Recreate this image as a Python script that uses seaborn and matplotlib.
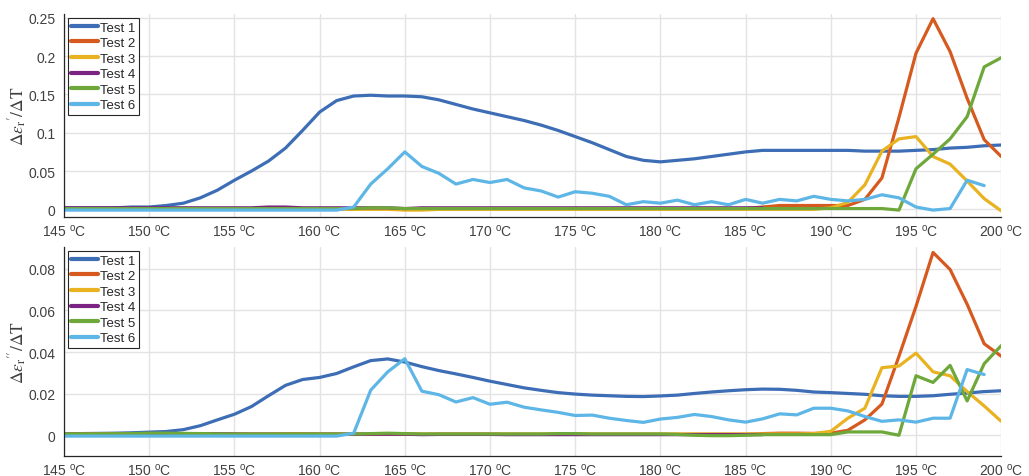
import numpy as np
import pandas as pd
import matplotlib
matplotlib.use("Agg")
import matplotlib.pyplot as plt
import seaborn as sns

temps = list(range(145, 201))
xtick_vals = [145, 150, 155, 160, 165, 170, 175, 180, 185, 190, 195, 200]
series_names = ["Test 1", "Test 2", "Test 3", "Test 4", "Test 5", "Test 6"]

# ---- top panel: d eps' / dT ----
top_t1 = [0.002, 0.002, 0.002, 0.002, 0.003, 0.003, 0.005, 0.008, 0.015, 0.025,
          0.038, 0.050, 0.063, 0.080, 0.103, 0.127, 0.142, 0.148, 0.149, 0.148,
          0.148, 0.147, 0.143, 0.137, 0.131, 0.126, 0.121, 0.116, 0.110, 0.103,
          0.095, 0.087, 0.078, 0.069, 0.064, 0.062, 0.064, 0.066, 0.069, 0.072,
          0.075, 0.077, 0.077, 0.077, 0.077, 0.077, 0.077, 0.076, 0.076, 0.076,
          0.077, 0.078, 0.080, 0.081, 0.083, 0.084]
top_t2 = [0.001, 0.001, 0.001, 0.001, 0.001, 0.001, 0.001, 0.001, 0.001, 0.001,
          0.001, 0.001, 0.001, 0.001, 0.001, 0.001, 0.001, 0.001, 0.001, 0.001,
          0.000, 0.001, 0.001, 0.001, 0.001, 0.001, 0.001, 0.001, 0.001, 0.001,
          0.001, 0.001, 0.001, 0.001, 0.001, 0.001, 0.001, 0.001, 0.001, 0.001,
          0.001, 0.003, 0.005, 0.005, 0.005, 0.005, 0.005, 0.013, 0.041, 0.120,
          0.204, 0.249, 0.206, 0.145, 0.091, 0.069]
top_t3 = [0.000, 0.000, 0.000, 0.000, 0.000, 0.000, 0.000, 0.000, 0.000, 0.000,
          0.000, 0.000, 0.000, 0.000, 0.000, 0.000, 0.000, 0.000, 0.000, 0.000,
          -0.001, -0.001, 0.000, 0.000, 0.000, 0.000, 0.000, 0.000, 0.000, 0.000,
          0.000, 0.000, 0.000, 0.000, 0.000, 0.000, 0.000, 0.000, 0.000, 0.000,
          0.000, 0.000, 0.000, 0.000, 0.000, 0.002, 0.009, 0.032, 0.076, 0.092,
          0.095, 0.069, 0.059, 0.037, 0.014, -0.002]
top_t4 = [0.002, 0.002, 0.002, 0.002, 0.002, 0.002, 0.002, 0.002, 0.002, 0.002,
          0.002, 0.002, 0.003, 0.003, 0.002, 0.002, 0.002, 0.002, 0.002, 0.002,
          0.001, 0.002, 0.002, 0.002, 0.002, 0.002, 0.002, 0.002, 0.002, 0.002,
          0.002, 0.002, 0.002, 0.002, 0.002, 0.002, 0.002, 0.002, 0.002, 0.002,
          0.002, 0.002]
top_t5 = [0.001, 0.001, 0.001, 0.001, 0.001, 0.001, 0.001, 0.001, 0.001, 0.001,
          0.001, 0.001, 0.001, 0.001, 0.001, 0.001, 0.001, 0.001, 0.002, 0.002,
          0.001, 0.001, 0.001, 0.001, 0.001, 0.001, 0.001, 0.001, 0.001, 0.001,
          0.001, 0.001, 0.001, 0.001, 0.001, 0.001, 0.001, 0.001, 0.001, 0.001,
          0.001, 0.001, 0.001, 0.001, 0.001, 0.001, 0.001, 0.001, 0.001, -0.001,
          0.053, 0.072, 0.092, 0.121, 0.186, 0.198]
top_t6 = [-0.001, -0.001, -0.001, -0.001, -0.001, -0.001, -0.001, -0.001, -0.001, -0.001,
          -0.001, -0.001, -0.001, -0.001, -0.001, -0.001, -0.001, 0.003, 0.033, 0.053,
          0.075, 0.056, 0.047, 0.033, 0.039, 0.035, 0.039, 0.028, 0.024, 0.016,
          0.023, 0.021, 0.017, 0.006, 0.010, 0.008, 0.012, 0.006, 0.010, 0.006,
          0.013, 0.008, 0.013, 0.011, 0.017, 0.013, 0.011, 0.013, 0.019, 0.015,
          0.003, -0.001, 0.001, 0.038, 0.031]

# ---- bottom panel: d eps'' / dT ----
bot_t1 = [0.0008, 0.0008, 0.0009, 0.0010, 0.0012, 0.0015, 0.0018, 0.0027, 0.0046, 0.0074,
          0.0101, 0.0138, 0.0190, 0.0240, 0.0268, 0.0278, 0.0297, 0.0329, 0.0359, 0.0367,
          0.0352, 0.0330, 0.0311, 0.0295, 0.0278, 0.0260, 0.0244, 0.0228, 0.0216, 0.0205,
          0.0198, 0.0193, 0.0190, 0.0187, 0.0186, 0.0189, 0.0193, 0.0201, 0.0208, 0.0214,
          0.0219, 0.0222, 0.0221, 0.0216, 0.0208, 0.0205, 0.0201, 0.0197, 0.0190, 0.0187,
          0.0187, 0.0190, 0.0197, 0.0203, 0.0210, 0.0214]
bot_t2 = [0.0005, 0.0005, 0.0005, 0.0005, 0.0005, 0.0005, 0.0005, 0.0005, 0.0005, 0.0005,
          0.0005, 0.0005, 0.0005, 0.0005, 0.0005, 0.0005, 0.0005, 0.0005, 0.0005, 0.0005,
          0.0005, 0.0005, 0.0005, 0.0005, 0.0005, 0.0005, 0.0005, 0.0005, 0.0005, 0.0005,
          0.0005, 0.0005, 0.0005, 0.0005, 0.0005, 0.0005, 0.0005, 0.0005, 0.0005, 0.0005,
          0.0005, 0.0008, 0.0010, 0.0010, 0.0009, 0.0010, 0.0024, 0.0074, 0.0150, 0.0380,
          0.0620, 0.0879, 0.0797, 0.0630, 0.0440, 0.0380]
bot_t3 = [0.0006, 0.0006, 0.0006, 0.0006, 0.0006, 0.0006, 0.0006, 0.0006, 0.0006, 0.0006,
          0.0006, 0.0006, 0.0006, 0.0008, 0.0008, 0.0006, 0.0006, 0.0006, 0.0006, 0.0006,
          0.0006, 0.0006, 0.0006, 0.0006, 0.0006, 0.0006, 0.0006, 0.0006, 0.0006, 0.0006,
          0.0006, 0.0006, 0.0006, 0.0006, 0.0006, 0.0006, 0.0006, 0.0006, 0.0006, 0.0006,
          0.0006, 0.0006, 0.0006, 0.0006, 0.0008, 0.0019, 0.0082, 0.0130, 0.0325, 0.0333,
          0.0395, 0.0305, 0.0286, 0.0210, 0.0141, 0.0067]
bot_t4 = [0.0006, 0.0006, 0.0004, 0.0004, 0.0005, 0.0004, 0.0000, 0.0004, 0.0007, 0.0008,
          0.0006, 0.0005, 0.0005, 0.0005, 0.0005, 0.0005, 0.0005, 0.0005, 0.0005, 0.0005,
          0.0005, 0.0003, 0.0004, 0.0004, 0.0004, 0.0004, 0.0003, 0.0003, 0.0003, 0.0003,
          0.0003, 0.0003, 0.0003, 0.0003, 0.0003, 0.0003, 0.0003, 0.0003, 0.0003, 0.0003,
          0.0003, 0.0003]
bot_t5 = [0.0007, 0.0007, 0.0007, 0.0007, 0.0008, 0.0010, 0.0010, 0.0009, 0.0008, 0.0007,
          0.0006, 0.0006, 0.0006, 0.0006, 0.0006, 0.0006, 0.0006, 0.0006, 0.0008, 0.0010,
          0.0008, 0.0006, 0.0006, 0.0006, 0.0006, 0.0006, 0.0006, 0.0006, 0.0006, 0.0008,
          0.0008, 0.0006, 0.0006, 0.0006, 0.0006, 0.0006, 0.0004, 0.0000, -0.0002, -0.0002,
          0.0000, 0.0003, 0.0003, 0.0003, 0.0003, 0.0003, 0.0016, 0.0016, 0.0016, 0.0000,
          0.0286, 0.0254, 0.0336, 0.0165, 0.0344, 0.0431]
bot_t6 = [-0.0004, -0.0004, -0.0004, -0.0004, -0.0004, -0.0004, -0.0004, -0.0004, -0.0004, -0.0004,
          -0.0004, -0.0004, -0.0004, -0.0004, -0.0004, -0.0004, -0.0004, 0.0010, 0.0217, 0.0305,
          0.0368, 0.0212, 0.0195, 0.0160, 0.0181, 0.0149, 0.0159, 0.0135, 0.0122, 0.0110,
          0.0095, 0.0097, 0.0082, 0.0071, 0.0062, 0.0078, 0.0086, 0.0100, 0.0090, 0.0074,
          0.0063, 0.0079, 0.0103, 0.0098, 0.0130, 0.0130, 0.0117, 0.0090, 0.0067, 0.0074,
          0.0063, 0.0082, 0.0082, 0.0316, 0.0292]

top_ticks = [0, 0.05, 0.1, 0.15, 0.2, 0.25]
top_ticklabels = ["0", "0.05", "0.1", "0.15", "0.2", "0.25"]
bot_ticks = [0, 0.02, 0.04, 0.06, 0.08]
bot_ticklabels = ["0", "0.02", "0.04", "0.06", "0.08"]

colors = ["#3d6db5", "#d65a1f", "#e8b221", "#7b2382", "#6fa83a", "#5db6e6"]

sns.set_style("whitegrid")
plt.rcParams["font.family"] = ["Liberation Sans", "DejaVu Sans"]
plt.rcParams["mathtext.fontset"] = "custom"
plt.rcParams["mathtext.rm"] = "Liberation Sans"
plt.rcParams["mathtext.it"] = "Liberation Sans:italic"

fig = plt.figure(figsize=(10.29, 4.77), dpi=100)
ax1 = fig.add_axes([0.0622, 0.543, 0.9108, 0.4254])
ax2 = fig.add_axes([0.0622, 0.0418, 0.9108, 0.4382])

panels = [
    (ax1, [top_t1, top_t2, top_t3, top_t4, top_t5, top_t6], (-0.01, 0.255),
     top_ticks, top_ticklabels, r"$\Delta\varepsilon_{\mathrm{r}}{'}/\Delta\mathrm{T}$"),
    (ax2, [bot_t1, bot_t2, bot_t3, bot_t4, bot_t5, bot_t6], (-0.01, 0.0905),
     bot_ticks, bot_ticklabels, r"$\Delta\varepsilon_{\mathrm{r}}{''}/\Delta\mathrm{T}$"),
]

for ax, data, ylim, yt, ytl, ylab in panels:
    for name, vals, c in zip(series_names, data, colors):
        sns.lineplot(x=temps[:len(vals)], y=vals, ax=ax, color=c, lw=2.3,
                     label=name, estimator=None, sort=False)
    ax.set_xlim(145, 200)
    ax.set_ylim(*ylim)
    ax.set_xticks(xtick_vals)
    ax.set_xticklabels([f"{v} $^{{\\mathrm{{o}}}}$C" for v in xtick_vals])
    ax.set_yticks(yt)
    ax.set_yticklabels(ytl)
    ax.grid(True, color="#e3e3e3", lw=1.0)
    ax.set_facecolor("white")
    for s in ["top", "right"]:
        ax.spines[s].set_visible(False)
    for s in ["left", "bottom"]:
        ax.spines[s].set_color("#262626")
        ax.spines[s].set_linewidth(0.9)
    ax.tick_params(axis="both", direction="in", length=7, width=0.9,
                   color="#262626", labelsize=10, labelcolor="#404040")
    ax.tick_params(axis="x", pad=4)
    ax.tick_params(axis="y", pad=6)
    ax.set_ylabel(ylab, fontsize=12.5, color="#404040", math_fontfamily="stix")
    ax.yaxis.set_label_coords(-0.0375, 0.5)
    ax.set_xlabel("")
    leg = ax.legend(loc="upper left", fontsize=9.5, frameon=True, fancybox=False,
                    edgecolor="#262626", framealpha=1, borderpad=0.25,
                    labelspacing=0.25, handlelength=2.0, handletextpad=0.2,
                    borderaxespad=0.3)
    leg.get_frame().set_linewidth(0.8)
    for ln in leg.get_lines():
        ln.set_linewidth(3.0)

fig.savefig("out.png", dpi=100)
